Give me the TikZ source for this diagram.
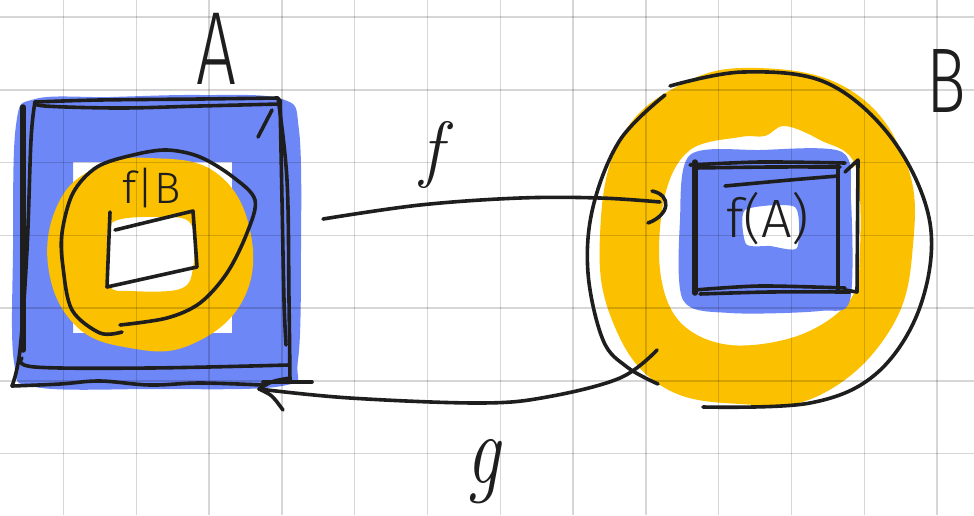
\documentclass[tikz,border=0pt]{standalone}
\usepackage{fontspec}
\newfontfamily\handfont{Fira Sans Light}
\definecolor{penblue}{HTML}{6E87F7}
\definecolor{penyellow}{HTML}{FBC000}
\definecolor{ink}{HTML}{1E1E1E}
\begin{document}
\begin{tikzpicture}[x=1pt,y=-1pt,
  pen/.style={draw=ink, line width=3.6pt, line cap=round, line join=round},
  thickpen/.style={pen, line width=5.5pt},
  gridline/.style={draw=black, opacity=0.16, line width=1.5pt},
  bigletter/.style={inner sep=0pt, text=ink, font=\handfont\fontsize{104}{104}\selectfont},
  maplabel/.style={inner sep=0pt, text=ink, font=\itshape\fontsize{74}{74}\selectfont},
  innerlabel/.style={inner sep=0pt, text=ink, font=\handfont\fontsize{44}{44}\selectfont}]

\useasboundingbox (0,0) rectangle (974,515);
\fill[white] (0,0) rectangle (974,515);

% ---------- set A: blue square with a yellow disc inside ----------
\fill[penblue, even odd rule]
  plot[smooth cycle, tension=0.6] coordinates {(16,125) (35,99) (110,97) (200,95) (282,99) (299,130) (301,250) (298,360) (282,386) (150,389) (35,387) (14,362) (13,250)}
  (73,162) rectangle (232,333);
\fill[penyellow, even odd rule]
  plot[smooth cycle, tension=0.7] coordinates {(149,158) (215,172) (250,230) (243,300) (190,345) (130,348) (75,325) (48,265) (60,200) (100,166)}
  plot[smooth cycle, tension=0.6] coordinates {(113,222) (160,217) (191,224) (193,268) (180,289) (130,291) (110,286) (108,250)};

% ---------- set B: yellow ring with a blue box inside ----------
\fill[penyellow, even odd rule]
  plot[smooth cycle, tension=0.7] coordinates {(757,68) (850,90) (905,160) (913,245) (890,330) (820,395) (740,404) (660,385) (612,320) (600,235) (620,140) (680,85)}
  plot[smooth cycle, tension=0.6] coordinates {(665,195) (690,150) (740,137) (765,136) (785,126) (820,140) (855,165) (860,250) (850,300) (800,335) (730,345) (680,322) (660,270)};
\fill[penblue, even odd rule]
  plot[smooth cycle, tension=0.5] coordinates {(690,155) (760,150) (842,152) (851,200) (850,300) (820,311) (730,313) (683,300) (680,220)}
  plot[smooth cycle, tension=0.4] coordinates {(745,210) (795,207) (797,248) (770,246) (746,244)};

% ---------- squared paper ----------
\foreach \k in {0,...,12} \draw[gridline] (63.5+72.8*\k,0) -- (63.5+72.8*\k,515);
\foreach \k in {0,...,6} \draw[gridline] (0,17+72.75*\k) -- (974,17+72.75*\k);

% ---------- outline of A ----------
\draw[pen] plot[smooth, tension=0.6] coordinates {(35,102) (45,106) (120,108) (200,106) (280,104)};
\draw[pen] plot[smooth, tension=0.6] coordinates {(35,102) (100,100) (200,99) (278,98)};
\draw[pen] plot[smooth, tension=0.6] coordinates {(35,102) (31,140) (27,250) (20,350) (12,386)};
\draw[thickpen] (23,107) -- (23,350);
\draw[pen] plot[smooth, tension=0.6] coordinates {(12,386) (60,384) (100,381) (150,385) (200,383) (262,385)};
\draw[pen] plot[smooth, tension=0.6] coordinates {(22,358) (35,367) (150,368) (289,365)};
\draw[pen] plot[smooth, tension=0.6] coordinates {(280,100) (282,200) (284,300) (286,345)};
\draw[pen] plot[smooth, tension=0.6] coordinates {(278,98) (287,180) (289,300) (290,382)};
\draw[pen] (258,137) -- (272,110);
\draw[pen] (263,382) -- (312,382);

% f|B : the loop around the restriction
\draw[pen] plot[smooth, tension=0.55] coordinates {(122,332) (100,333) (72,310) (63,267) (62,233) (73,193) (97,167) (133,155) (167,150) (200,157) (233,177) (255,200) (247,233) (227,273) (200,303) (167,318) (120,325)};
\draw[pen] (110,212) -- (107,287);
\draw[pen] (115,230) -- (193,211) -- (197,267) -- (107,287);
\node[innerlabel] (fB) at (152,188) {f|B};

% ---------- outline of B ----------
\draw[pen] plot[smooth, tension=0.6] coordinates {(665,95) (620,140) (593,207) (588,273) (603,340) (627,367) (658,384)};
\draw[pen] plot[smooth, tension=0.6] coordinates {(670,86) (743,72) (827,83) (893,140) (930,223) (920,307) (877,373) (810,403) (703,407)};

% f(A): the box inside B
\draw[thickpen] (695,162) -- (695,293);
\draw[pen] plot[smooth, tension=0.5] coordinates {(690,165) (760,162) (845,163)};
\draw[pen] plot[smooth, tension=0.5] coordinates {(695,168) (770,167) (840,167)};
\draw[pen] plot[smooth, tension=0.5] coordinates {(695,290) (760,286) (845,288)};
\draw[pen] plot[smooth, tension=0.5] coordinates {(700,294) (770,292) (850,292)};
\draw[pen] (838,165) -- (838,290);
\draw[pen] (845,172) -- (858,160) -- (857,292) -- (845,290);
\draw[pen] plot[smooth, tension=0.5] coordinates {(725,186) (790,180) (838,176)};
\node[innerlabel, font=\handfont\fontsize{54}{54}\selectfont] (fA) at (768,219) {f(A)};

% ---------- labels ----------
\node[bigletter, xscale=0.68] (lblA) at (216,49) {A};
\node[bigletter, xscale=0.72, font=\handfont\fontsize{92}{92}\selectfont] (lblB) at (946,81) {B};
\node[maplabel] (lblf) at (432,155) {f};
\node[maplabel, font=\itshape\fontsize{100}{100}\selectfont, xscale=0.75] (lblg) at (483,472) {g};

% ---------- the maps f and g ----------
\coordinate (fstart) at (323,219);
\coordinate (fend) at (660,202);
\coordinate (gstart) at (657,350);
\coordinate (gend) at (259,389);
\draw[pen] plot[smooth, tension=0.6] coordinates {(fstart) (420,205) (520,198) (600,198) (fend)};
\draw[pen] (652,191) .. controls (672,195) and (670,215) .. (648,223);
\draw[pen] plot[smooth, tension=0.6] coordinates {(gstart) (620,378) (547,397) (480,403) (350,398) (gend)};
\draw[pen] (290,378) .. controls (272,381) .. (gend) .. controls (272,395) .. (283,410);
\end{tikzpicture}
\end{document}
